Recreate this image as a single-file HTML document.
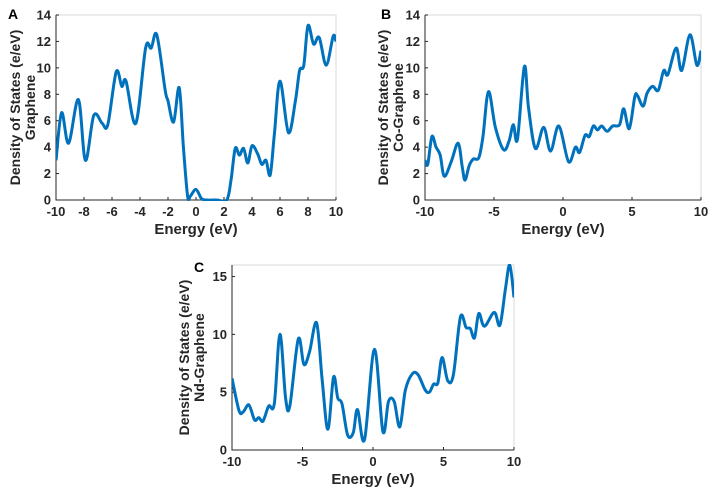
<!DOCTYPE html>
<html><head><meta charset="utf-8">
<style>
body{margin:0;background:#fff;}
svg{display:block;font-family:"Liberation Sans",sans-serif;font-weight:bold;}
</style></head>
<body>
<svg id="fig" width="713" height="489" viewBox="0 0 713 489"></svg>
<script>
// Panel A: Graphene
const energyA = [-10,-9.6,-9.1,-8.4,-7.9,-7.3,-6.7,-6.3,-5.7,-5.3,-5.0,-4.3,-3.6,-3.2,-2.8,-2.2,-2.0,-1.6,-1.2,-0.9,-0.6,-0.4,0,0.4,0.8,1.5,2.2,2.5,2.8,3.1,3.4,3.7,4.0,4.4,4.7,5.0,5.3,5.6,6.0,6.6,7.1,7.4,7.7,8.0,8.4,8.8,9.3,9.8,10];
const dosA = [3,6.6,4.3,7.6,3.0,6.4,5.8,5.7,9.7,8.6,9.0,5.8,11.5,11.5,12.5,8.3,7.5,5.9,8.5,4,0.3,0.3,0.8,0.1,0,0,0,1.5,3.9,3.4,3.9,2.8,4.1,3.5,2.7,3.0,1.9,5,9.0,5.1,7.5,9.8,10.2,13.2,11.8,12.3,10.2,12.4,12.0];
const xTicksA = [-10,-8,-6,-4,-2,0,2,4,6,8,10];
const yTicksA = [0,2,4,6,8,10,12,14];
// Panel B: Co-Graphene
const energyB = [-10,-9.8,-9.5,-9.2,-8.9,-8.6,-8.1,-7.6,-7.3,-7.1,-6.8,-6.5,-6.1,-5.8,-5.4,-4.9,-4.3,-3.9,-3.6,-3.3,-2.8,-2.5,-2.0,-1.4,-0.9,-0.3,0.4,0.9,1.2,1.6,1.9,2.2,2.5,2.8,3.2,3.6,4.1,4.4,4.8,5.2,5.4,5.8,6.1,6.5,6.9,7.3,7.6,8.2,8.6,9.2,9.7,10];
const dosB = [3.0,2.7,4.8,4.0,3.4,1.8,2.9,4.3,2.5,1.5,2.6,3.1,3.2,4.8,8.2,5.5,3.8,4.5,5.7,4.6,10.1,7,3.9,5.5,3.7,5.6,2.9,4.0,3.6,4.9,4.8,5.6,5.3,5.6,5.2,5.6,5.7,6.9,5.4,7.8,7.9,7.1,8.1,8.6,8.3,9.8,9.5,11.5,9.8,12.5,10.2,11.3];
const xTicksB = [-10,-5,0,5,10];
const yTicksB = [0,2,4,6,8,10,12,14];
// Panel C: Nd-Graphene
const energyC = [-10,-9.5,-9.2,-8.8,-8.4,-8.1,-7.8,-7.4,-7.0,-6.6,-6.2,-5.9,-5.3,-4.9,-4.5,-4.0,-3.6,-3.2,-2.8,-2.5,-2.2,-1.8,-1.4,-1.1,-0.6,0.1,0.7,1.1,1.5,1.9,2.3,2.8,3.2,3.7,4.0,4.3,4.6,4.9,5.3,5.7,6.2,6.6,6.9,7.2,7.5,7.9,8.6,9.0,9.4,9.7,10];
const dosC = [6.2,3.4,3.3,3.9,2.6,2.8,2.5,3.8,4.0,10.0,4.5,3.8,9.6,7.4,8.5,11.0,6.0,1.8,6.3,4.5,4.0,1.3,1.5,3.5,0.9,8.7,1.6,4.2,4.2,2.0,5.2,6.6,6.5,5.2,5.0,5.7,5.8,8.0,6.0,6.5,11.5,10.6,10.5,9.7,11.8,10.7,11.9,10.8,14,16,13.2];
const xTicksC = [-10,-5,0,5,10];
const yTicksC = [0,5,10,15];

const NS='http://www.w3.org/2000/svg';
const svg=document.getElementById('fig');
function mk(tag,attrs,parent){const e=document.createElementNS(NS,tag);for(const k in attrs)e.setAttribute(k,attrs[k]);(parent||svg).appendChild(e);return e;}

function panel(id,box,ymax,xs,ys,xt,yt,letter,name,lx){
  const g=mk('g',{});
  
  
  const sx=v=>box.l+(v+10)/20*(box.r-box.l);
  const sy=v=>box.b-v/ymax*(box.b-box.t);
  const frame=mk('rect',{x:box.l,y:box.t,width:box.r-box.l,height:box.b-box.t,fill:'none',stroke:'#d9d9d9','stroke-width':1},g);
  
  
  const ax=mk('path',{d:`M${box.l},${box.t}V${box.b}H${box.r}`,fill:'none',stroke:'#262626','stroke-width':1},g);
  
  
  xt.forEach(v=>{
    mk('line',{x1:sx(v),x2:sx(v),y1:box.b,y2:box.b-3,stroke:'#262626'},g);
    const t=mk('text',{x:sx(v),y:box.b+16,'text-anchor':'middle','font-size':13,fill:'#262626'},g);
    t.textContent=v;
    
    
  });
  yt.forEach(v=>{
    mk('line',{x1:box.l,x2:box.l+3,y1:sy(v),y2:sy(v),stroke:'#262626'},g);
    const t=mk('text',{x:box.l-5,y:sy(v)+4.5,'text-anchor':'end','font-size':13,fill:'#262626'},g);
    t.textContent=v;
    
    
  });
  const cp=mk('clipPath',{id:'cp'+id},g);
  mk('rect',{x:box.l,y:box.t-1,width:box.r-box.l,height:box.b-box.t+2},cp);
  const P=xs.map((x,i)=>[sx(x),sy(ys[i])]);
  let d=`M${P[0][0]},${P[0][1]}`;
  for(let i=0;i<P.length-1;i++){
    const p0=P[Math.max(0,i-1)],p1=P[i],p2=P[i+1],p3=P[Math.min(P.length-1,i+2)];
    const c1=[p1[0]+(p2[0]-p0[0])/6,p1[1]+(p2[1]-p0[1])/6];
    const c2=[p2[0]-(p3[0]-p1[0])/6,p2[1]-(p3[1]-p1[1])/6];
    d+=`C${c1[0]},${c1[1]} ${c2[0]},${c2[1]} ${p2[0]},${p2[1]}`;
  }
  const line=mk('path',{d,fill:'none',stroke:'#0072bd','stroke-width':3,'stroke-linejoin':'round','clip-path':`url(#cp${id})`},g);
  
  
  const xl=mk('text',{x:(box.l+box.r)/2,y:box.b+34,'text-anchor':'middle','font-size':15,fill:'#262626'},g);
  xl.textContent='Energy (eV)';
  
  
  const cy=(box.t+box.b)/2;
  const y1=mk('text',{x:lx,y:cy,'text-anchor':'middle','font-size':14,fill:'#262626',transform:`rotate(-90 ${lx} ${cy})`},g);
  y1.textContent='Density of States (e/eV)';
  
  
  const y2=mk('text',{x:lx+15,y:cy,'text-anchor':'middle','font-size':14,fill:'#262626',transform:`rotate(-90 ${lx+15} ${cy})`},g);
  y2.textContent=name;
  
  
  const L=mk('text',{x:letter[0],y:letter[1],'font-size':14,fill:'#000'},g);
  L.textContent=id;
  
  
}
panel('A',{l:56,r:336,t:15,b:200},14,energyA,dosA,xTicksA,yTicksA,[8,19],'Graphene',20);
panel('B',{l:425,r:701,t:15,b:200},14,energyB,dosB,xTicksB,yTicksB,[381,19],'Co-Graphene',388);
panel('C',{l:232,r:514,t:265,b:450},16,energyC,dosC,xTicksC,yTicksC,[194,272],'Nd-Graphene',189);
</script>
</body></html>
